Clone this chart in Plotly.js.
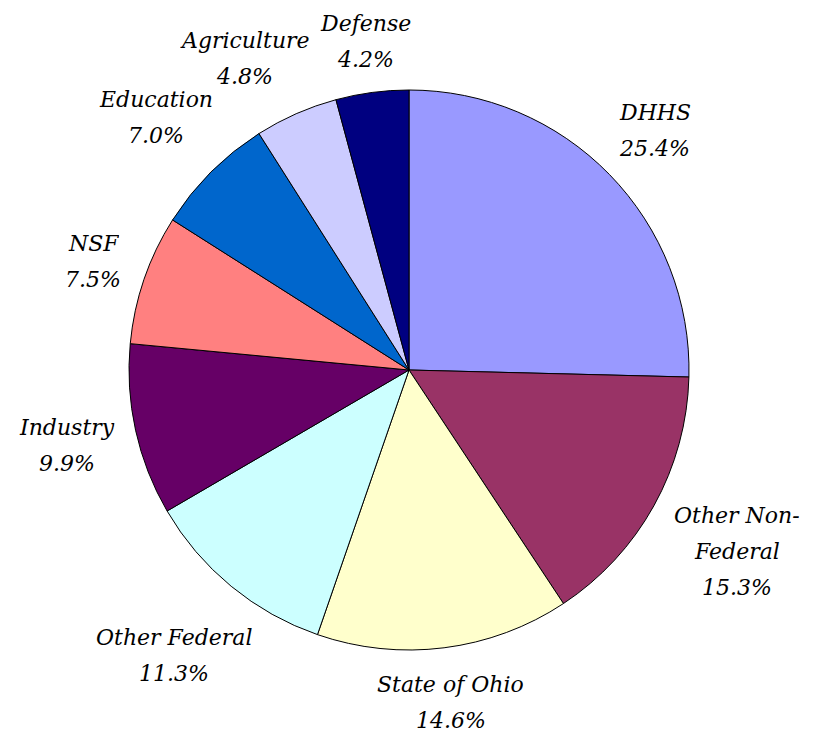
<!DOCTYPE html>
<html>
<head>
<meta charset="utf-8">
<script src="https://cdn.plot.ly/plotly-3.0.1.min.js"></script>
<style>html,body{margin:0;padding:0;background:#fff;}#chart{width:822px;height:732px;}</style>
</head>
<body>
<div id="chart"></div>
<script>
const categories = ["DHHS", "Other Non-<br>Federal", "State of Ohio", "Other Federal", "Industry", "NSF", "Education", "Agriculture", "Defense"];
const shares = [25.4, 15.3, 14.6, 11.3, 9.9, 7.5, 7.0, 4.8, 4.2];
const colors = ["#9999FF", "#993366", "#FFFFCC", "#CCFFFF", "#660066", "#FF8080", "#0066CC", "#CCCCFF", "#000080"];

const W = 822, H = 732;
const margin = {l: 129, r: 133, t: 90, b: 82};
const plotW = W - margin.l - margin.r;   // 560
const plotH = H - margin.t - margin.b;   // 560
const R = Math.min(plotW, plotH) / 2;
const FONT_SIZE = 22;
const LINE_PITCH = 36;
const GAP = 18;
const PAD = 10;
const fontFamily = "'DejaVu Serif', serif";

const trace = {
  type: "pie",
  labels: categories,
  values: shares,
  sort: false,
  direction: "clockwise",
  rotation: 0,
  marker: {colors: colors, line: {color: "#000000", width: 1}},
  textinfo: "none",
  hoverinfo: "none",
  showlegend: false,
  automargin: false
};

// Excel-style outside labels, placed from the data (mid-angle of each slice)
const ctx = document.createElement("canvas").getContext("2d");
ctx.font = "italic " + FONT_SIZE + "px 'DejaVu Serif'";
const total = shares.reduce((a, b) => a + b, 0);
const labels = [];
let cum = 0;
shares.forEach((v, i) => {
  const mid = (cum + v / 2) / total * 2 * Math.PI;
  cum += v;
  const lines = categories[i].split("<br>").concat([(v / total * 100).toFixed(1) + "%"]);
  const w = Math.max(...lines.map(t => ctx.measureText(t).width));
  const h = (lines.length - 1) * LINE_PITCH + 20;
  labels.push({mid: mid, ang: mid, lines: lines, w: w, h: h});
});
function place(L) {
  const s = Math.sin(L.ang), c = Math.cos(L.ang);
  const d = R + GAP + Math.abs(s) * L.w / 2 + Math.abs(c) * L.h / 2;
  L.cx = d * s; L.cy = -d * c;   // pixel offsets from centre, y down
}
function overlaps(a, b) {
  return Math.abs(a.cx - b.cx) < (a.w + b.w) / 2 + PAD &&
         Math.abs(a.cy - b.cy) < (a.h + b.h) / 2;
}
const placed = [];
for (let i = labels.length - 1; i >= 0; i--) {
  const L = labels[i];
  place(L);
  let guard = 0;
  let hit = placed.find(p => overlaps(L, p));
  while (hit && guard < 90) {
    L.ang += (L.ang < hit.mid ? -1 : 1) * Math.PI / 180;
    place(L);
    hit = placed.find(p => overlaps(L, p));
    guard++;
  }
  placed.push(L);
}
const annotations = [];
labels.forEach(L => {
  const xp = 0.5 + L.cx / plotW;
  const yp = 0.5 - L.cy / plotH;
  L.lines.forEach((t, j) => {
    annotations.push({
      xref: "paper", yref: "paper", x: xp, y: yp,
      xanchor: "center", yanchor: "middle",
      yshift: ((L.lines.length - 1) / 2 - j) * LINE_PITCH,
      text: t, showarrow: false, height: 27, borderpad: 0,
      font: {family: fontFamily, size: FONT_SIZE, color: "#000000", style: "italic"}
    });
  });
});

const layout = {
  width: W,
  height: H,
  margin: margin,
  paper_bgcolor: "#ffffff",
  plot_bgcolor: "#ffffff",
  showlegend: false,
  annotations: annotations
};

Plotly.newPlot("chart", [trace], layout, {staticPlot: true});
</script>
</body>
</html>
